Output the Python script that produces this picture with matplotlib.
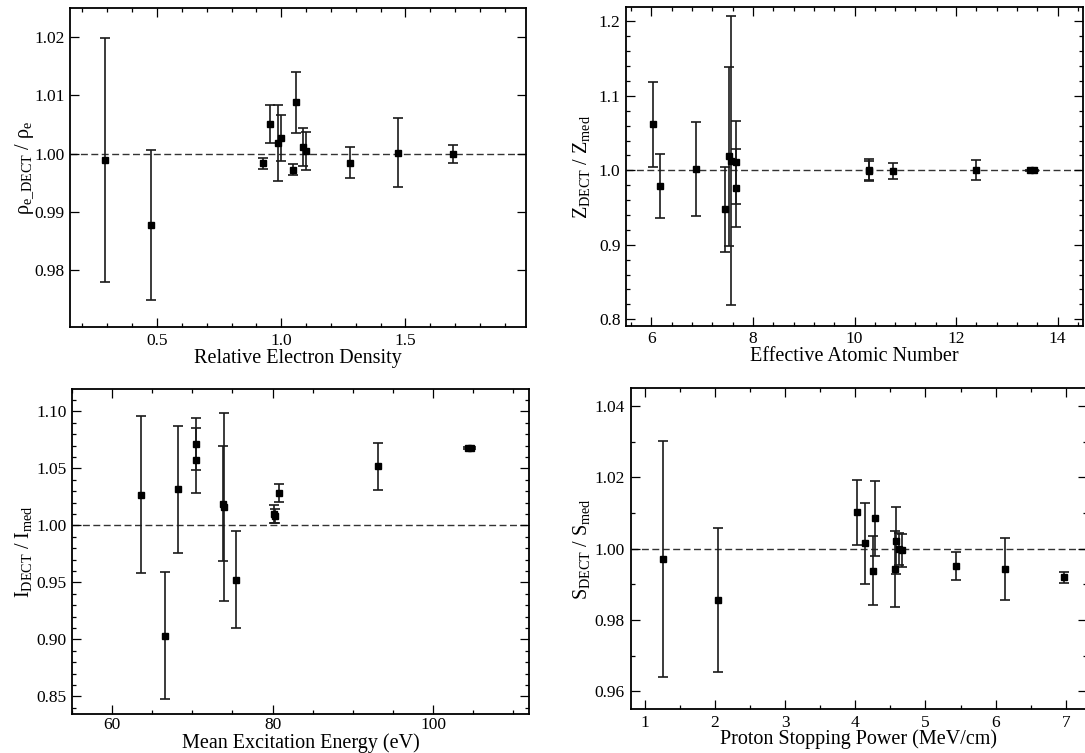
import matplotlib
matplotlib.use("Agg")
import matplotlib.pyplot as plt
from matplotlib.ticker import MultipleLocator, FormatStrFormatter

plt.rcParams['font.family'] = ['Liberation Serif', 'DejaVu Serif']
plt.rcParams['mathtext.fontset'] = 'custom'
plt.rcParams['mathtext.rm'] = 'Liberation Serif'
plt.rcParams['mathtext.it'] = 'Liberation Serif:italic'

# Relative electron density
rho_x = [0.292, 0.476, 0.928, 0.956, 0.987, 0.999, 1.046, 1.059, 1.087, 1.099, 1.278, 1.469, 1.693]
rho_y = [0.9989, 0.9878, 0.9984, 1.0051, 1.0019, 1.0027, 0.9973, 1.0088, 1.0012, 1.0005, 0.9985, 1.0002, 1.0000]
rho_err = [0.0209, 0.0129, 0.00095, 0.0033, 0.0065, 0.0039, 0.00095, 0.0053, 0.0033, 0.0032, 0.0026, 0.0059, 0.0015]

# Effective atomic number
z_x = [6.04, 6.17, 6.88, 7.45, 7.52, 7.56, 7.66, 7.66, 10.28, 10.29, 10.76, 12.40, 13.46, 13.54]
z_y = [1.0617, 0.9785, 1.0018, 0.948, 1.0188, 1.0126, 1.0107, 0.9764, 1.0005, 0.9995, 0.9992, 1.0004, 1.000, 1.000]
z_err = [0.057, 0.043, 0.063, 0.057, 0.120, 0.194, 0.0557, 0.0526, 0.0145, 0.013, 0.0105, 0.0131, 0.001, 0.001]

# Mean excitation energy (eV)
i_x = [63.6, 66.64, 68.27, 70.42, 70.42, 73.8, 74.0, 75.39, 80.15, 80.25, 80.79, 93.18, 104.3, 104.7]
i_y = [1.0269, 0.9031, 1.0315, 1.0716, 1.0571, 1.0191, 1.0161, 0.9524, 1.0100, 1.0085, 1.0284, 1.0517, 1.0680, 1.0680]
i_err = [0.0687, 0.0556, 0.0556, 0.023, 0.0283, 0.0503, 0.0825, 0.0423, 0.0075, 0.006, 0.0082, 0.0208, 0.001, 0.001]

# Proton stopping power (MeV/cm)
s_x = [1.257, 2.048, 4.029, 4.138, 4.257, 4.276, 4.567, 4.576, 4.619, 4.667, 5.429, 6.133, 6.971]
s_y = [0.9971, 0.9856, 1.0102, 1.0015, 0.9938, 1.0085, 0.9943, 1.0023, 1.0000, 0.9995, 0.9951, 0.9942, 0.9920]
s_err = [0.0332, 0.0203, 0.0091, 0.0113, 0.0097, 0.0106, 0.0108, 0.0094, 0.0045, 0.0046, 0.0040, 0.0087, 0.0015]

W, H = 1085, 753
fig = plt.figure(figsize=(W / 100, H / 100), dpi=100)


def add_panel(left, right, top, bottom):
    return fig.add_axes([left / W, 1 - bottom / H, (right - left) / W, (bottom - top) / H])


panels = [
    dict(box=(70, 526, 8, 327), x=rho_x, y=rho_y, e=rho_err,
         xlim=(0.15, 1.985), ylim=(0.9703, 1.025), xmaj=0.5, xmin=0.1, ymaj=0.01, ymin=None,
         xfmt='%.1f', yfmt='%.2f',
         xlabel='Relative Electron Density', xpad=0, xtpad=4,
         ylabel=r'$\mathrm{\rho_{e\_DECT}}$ / $\mathrm{\rho_{e}}$', ylab_px=25),
    dict(box=(626, 1083, 7.3, 325.7), x=z_x, y=z_y, e=z_err,
         xlim=(5.5, 14.5), ylim=(0.7914, 1.2188), xmaj=2, xmin=0.4, ymaj=0.1, ymin=0.02,
         xfmt='%d', yfmt='%.1f',
         xlabel='Effective Atomic Number', xpad=0, xtpad=4,
         ylabel=r'$\mathrm{Z_{DECT}}$ / $\mathrm{Z_{med}}$', ylab_px=582),
    dict(box=(72, 529.3, 388.9, 714.0), x=i_x, y=i_y, e=i_err,
         xlim=(55, 112), ylim=(0.8346, 1.1197), xmaj=20, xmin=5, ymaj=0.05, ymin=0.01,
         xfmt='%d', yfmt='%.2f',
         xlabel='Mean Excitation Energy (eV)', xpad=0, xtpad=2.0,
         ylabel=r'$\mathrm{I_{DECT}}$ / $\mathrm{I_{med}}$', ylab_px=23),
    dict(box=(630.5, 1087, 388.4, 709), x=s_x, y=s_y, e=s_err,
         xlim=(0.8, 7.3), ylim=(0.955, 1.045), xmaj=1, xmin=0.5, ymaj=0.02, ymin=0.01,
         xfmt='%d', yfmt='%.2f',
         xlabel='Proton Stopping Power (MeV/cm)', xpad=-1, xtpad=4,
         ylabel=r'$\mathrm{S_{DECT}}$ / $\mathrm{S_{med}}$', ylab_px=582),
]

for p in panels:
    left, right, top, bottom = p['box']
    ax = add_panel(left, right, top, bottom)
    ax.axhline(1.0, color='#333333', lw=1.0, ls=(0, (5, 2.5)), zorder=1)
    ax.errorbar(p['x'], p['y'], yerr=p['e'], fmt='s', color='black', ms=4.4,
                ecolor='#1a1a1a', elinewidth=1.2, capsize=3.3, capthick=1.2, zorder=3)
    ax.set_xlim(*p['xlim'])
    ax.set_ylim(*p['ylim'])
    ax.xaxis.set_major_locator(MultipleLocator(p['xmaj']))
    ax.xaxis.set_minor_locator(MultipleLocator(p['xmin']))
    ax.yaxis.set_major_locator(MultipleLocator(p['ymaj']))
    if p['ymin']:
        ax.yaxis.set_minor_locator(MultipleLocator(p['ymin']))
    ax.xaxis.set_major_formatter(FormatStrFormatter(p['xfmt']))
    ax.yaxis.set_major_formatter(FormatStrFormatter(p['yfmt']))
    ax.tick_params(which='both', direction='in', top=True, right=True, labelsize=12.5,
                   width=0.9, colors='black', pad=4)
    ax.tick_params(axis='x', which='both', pad=p['xtpad'])
    ax.tick_params(which='major', length=6.3)
    ax.tick_params(which='minor', length=3.2)
    for s in ax.spines.values():
        s.set_linewidth(1.3)
    ax.set_xlabel(p['xlabel'], fontsize=14.5, labelpad=p['xpad'])
    ax.set_ylabel(p['ylabel'], fontsize=14.5, ha='center', va='center')
    ax.yaxis.set_label_coords((p['ylab_px'] - left) / (right - left), 0.5)

fig.savefig('out.png', dpi=100)
